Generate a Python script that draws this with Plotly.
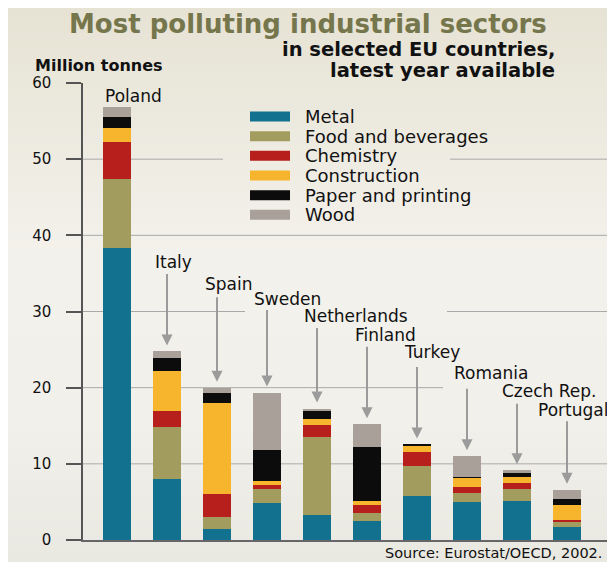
import plotly.graph_objects as go

# ---------------- data ----------------
countries = ['Poland', 'Italy', 'Spain', 'Sweden', 'Netherlands', 'Finland',
             'Turkey', 'Romania', 'Czech Rep.', 'Portugal']
metal = [38.3, 8.0, 1.5, 4.9, 3.3, 2.5, 5.8, 5.0, 5.15, 1.65]
food = [9.1, 6.9, 1.55, 1.8, 10.2, 1.0, 3.95, 1.2, 1.5, 0.8]
chemistry = [4.9, 2.05, 3.05, 0.55, 1.65, 1.05, 1.85, 0.8, 0.87, 0.2]
construction = [1.8, 5.3, 11.95, 0.5, 0.8, 0.6, 0.8, 1.2, 0.8, 2.0]
paper = [1.5, 1.6, 1.25, 4.1, 1.1, 7.05, 0.15, 0.1, 0.6, 0.75]
wood = [1.3, 0.9, 0.7, 7.5, 0.2, 3.0, 0.0, 2.7, 0.25, 1.2]
y_ticks = [0, 10, 20, 30, 40, 50, 60]

series_names = ['Metal', 'Food and beverages', 'Chemistry', 'Construction',
                'Paper and printing', 'Wood']
series_values = [metal, food, chemistry, construction, paper, wood]
series_colors = ['#11718f', '#a39c5f', '#b71f1c', '#f7b52d', '#0c0c0c', '#a8a099']

# ---------------- layout constants (pixels) ----------------
# the page body has an 8px margin, so the figure is drawn 8px in from the corner
OFF = 8
W, H = 615 - OFF, 562 - OFF
ML, MR, MT, MB = 83 - OFF, 0, 82.5 - OFF, 22
PW, PH = W - ML - MR, H - MT - MB
FONT = 'DejaVu Sans'


def px2x(px):
    """reference-image x pixel -> paper fraction"""
    return (px - OFF - ML) / PW


def py2y(py):
    """reference-image y pixel -> paper fraction"""
    return (H - MB - (py - OFF)) / PH


fig = go.Figure()
for name, vals, col in zip(series_names, series_values, series_colors):
    fig.add_trace(go.Bar(x=countries, y=vals, name=name, marker_color=col,
                         marker_line_width=0, width=0.56, showlegend=False))

totals = [sum(v) for v in zip(*series_values)]

shapes = []
# soft vertical background gradient (beige at top/bottom, lighter in the middle)
grad_stops = [(0, (230, 226, 211)), (100, (235, 232, 221)), (250, (243, 241, 235)),
              (420, (242, 240, 235)), (562, (233, 232, 225))]
band = 8
for top in range(0, 562, band):
    mid = top + band / 2
    for (a, ca), (b, cb) in zip(grad_stops[:-1], grad_stops[1:]):
        if a <= mid <= b:
            t = (mid - a) / (b - a)
            rgb = tuple(round(ca[j] + (cb[j] - ca[j]) * t) for j in range(3))
            break
    shapes.append(dict(type='rect', xref='paper', yref='paper', x0=px2x(0), x1=px2x(620),
                       y0=py2y(top + band + 1), y1=py2y(top), line_width=0,
                       fillcolor='rgb(%d,%d,%d)' % rgb, layer='below'))

# grid line segments (interrupted behind labels / legend as in the reference)
grid_segments = [(50, 83, 223), (50, 450, 615), (40, 83, 615), (30, 83, 245),
                 (30, 447, 615), (20, 83, 443), (10, 83, 615)]
for gy, x0, x1 in grid_segments:
    shapes.append(dict(type='line', xref='paper', yref='y', x0=px2x(x0), x1=px2x(x1),
                       y0=gy, y1=gy, line=dict(color='#a9a9a9', width=1), layer='below'))

annotations = []
# manual legend
for k, (name, col) in enumerate(zip(series_names, series_colors)):
    cy = 116 + 19.7 * k
    shapes.append(dict(type='rect', xref='paper', yref='paper',
                       x0=px2x(250), x1=px2x(290), y0=py2y(cy + 5), y1=py2y(cy - 5),
                       fillcolor=col, line_width=0))
    annotations.append(dict(xref='paper', yref='paper', x=px2x(304), y=py2y(cy),
                            xanchor='left', yanchor='middle', text=name, showarrow=False,
                            borderpad=0, font=dict(family=FONT, size=18, color='#111')))

# country labels and arrows
label_rise = [11, 89, 104, 94, 93, 89, 92, 83, 79, 80]
label_xshift = [1, 1, 1, 0, 0, 1, 0, 0, -2, -16]
arrow_len = [0, 79, 92, 84, 82, 79, 79, 69, 68, 70]
for i, (c, tot) in enumerate(zip(countries, totals)):
    annotations.append(dict(x=i - 0.28, y=tot, xref='x', yref='y', text=c,
                            xanchor='left', yanchor='middle', yshift=label_rise[i],
                            xshift=label_xshift[i], showarrow=False, borderpad=0,
                            font=dict(family=FONT, size=17, color='#111')))
    if arrow_len[i] > 0:
        annotations.append(dict(x=i, y=tot, xref='x', yref='y', text='',
                                showarrow=True, ax=0, ay=-arrow_len[i], standoff=6,
                                arrowhead=2, arrowsize=1.1, arrowwidth=2,
                                arrowcolor='#9b9b9b'))

# titles and notes
annotations += [
    dict(xref='paper', yref='paper', x=px2x(308), y=py2y(23), text='<b>Most polluting industrial sectors</b>',
         showarrow=False, xanchor='center', yanchor='middle', borderpad=0,
         font=dict(family=FONT, size=26, color='#76764c')),
    dict(xref='paper', yref='paper', x=px2x(556), y=py2y(49), text='<b>in selected EU countries,</b>',
         showarrow=False, xanchor='right', yanchor='middle', borderpad=0,
         font=dict(family=FONT, size=19.5, color='#111')),
    dict(xref='paper', yref='paper', x=px2x(556), y=py2y(70), text='<b>latest year available</b>',
         showarrow=False, xanchor='right', yanchor='middle', borderpad=0,
         font=dict(family=FONT, size=19.5, color='#111')),
    dict(xref='paper', yref='paper', x=px2x(34), y=py2y(65), text='<b>Million tonnes</b>',
         showarrow=False, xanchor='left', yanchor='middle', borderpad=0,
         font=dict(family=FONT, size=16, color='#111')),
    dict(xref='paper', yref='paper', x=px2x(603), y=py2y(553), text='Source: Eurostat/OECD, 2002.',
         showarrow=False, xanchor='right', yanchor='middle', borderpad=0,
         font=dict(family=FONT, size=14.5, color='#111')),
]

fig.update_layout(
    width=W, height=H, barmode='stack', bargap=0,
    margin=dict(l=ML, r=MR, t=MT, b=MB, pad=0),
    paper_bgcolor='#eeebe2', plot_bgcolor='rgba(0,0,0,0)',
    shapes=shapes, annotations=annotations,
    xaxis=dict(range=[-0.68, -0.68 + PW / 50], showticklabels=False, ticks='',
               showgrid=False, zeroline=False, showline=True, linecolor='#666',
               linewidth=1.5, fixedrange=True),
    yaxis=dict(range=[0, 60], tickvals=y_ticks, showgrid=False, zeroline=False,
               showline=True, linecolor='#555', linewidth=1.5, ticks='outside',
               ticklen=15, tickwidth=1.5, tickcolor='#555', ticklabelstandoff=12,
               tickfont=dict(family=FONT, size=15, color='#111'), fixedrange=True),
)

fig.write_html('out.html')
